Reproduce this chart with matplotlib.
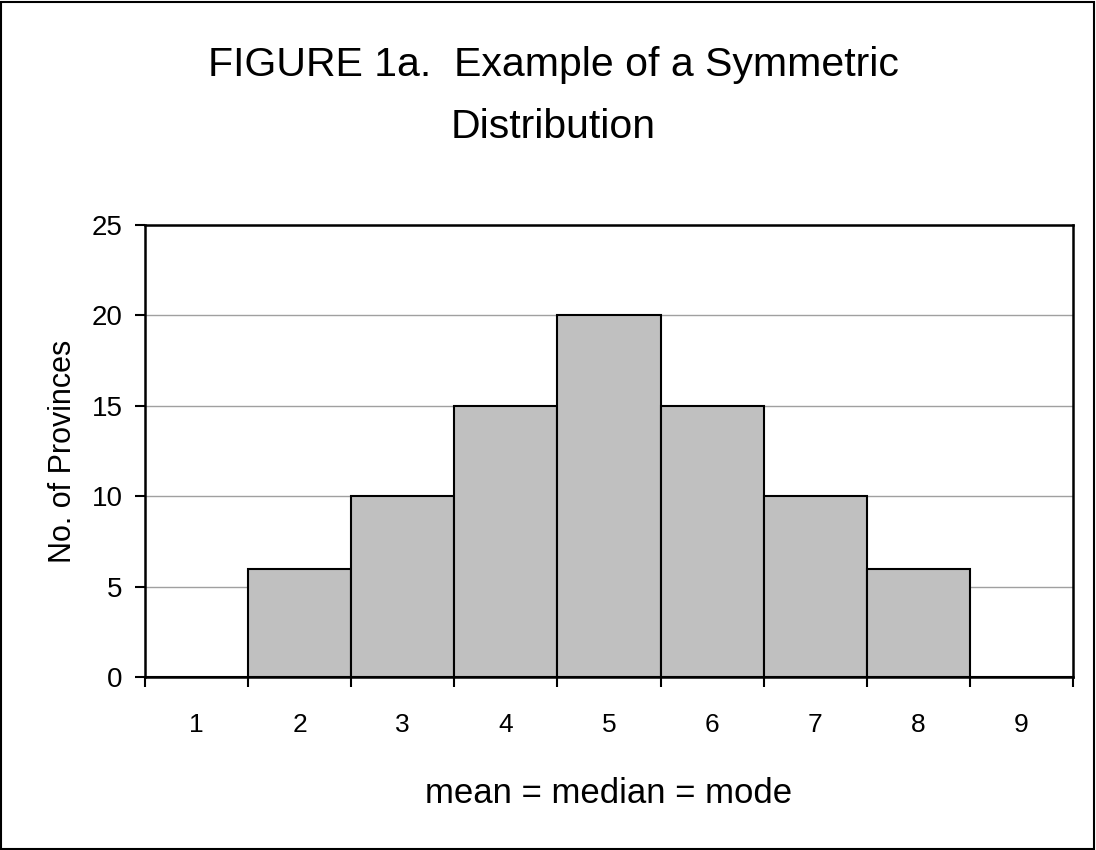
import numpy as np
import matplotlib.pyplot as plt
from matplotlib.patches import Rectangle

plt.rcParams['font.family'] = ['Liberation Sans', 'DejaVu Sans']

categories = [1, 2, 3, 4, 5, 6, 7, 8, 9]
counts = [0, 6, 10, 15, 20, 15, 10, 6, 0]

fig = plt.figure(figsize=(10.96, 8.5), dpi=100)
ax = fig.add_axes([0.1323, 0.2035, 0.8467, 0.5318])

x = np.array(categories)
ax.bar(x, counts, width=1.0, color='#C0C0C0', edgecolor='black',
       linewidth=1.5, zorder=3)

ax.set_xlim(0.5, 9.5)
ax.set_ylim(0, 25)
ax.set_yticks([0, 5, 10, 15, 20, 25])
ax.yaxis.grid(True, color='#A0A0A0', linewidth=1.0, zorder=0)
ax.set_axisbelow(True)

# ticks between categories, labels centered
ax.set_xticks(np.arange(0.5, 10.0, 1.0))
ax.set_xticklabels([])
ax.set_xticks(x, minor=True)
ax.set_xticklabels([str(c) for c in categories], minor=True)
ax.tick_params(axis='x', which='major', direction='out', length=7, width=1.5)
ax.tick_params(axis='x', which='minor', length=0, pad=26, labelsize=19)
ax.tick_params(axis='y', direction='out', length=7, width=1.5, labelsize=20,
               pad=9)

for s in ax.spines.values():
    s.set_linewidth(1.8)
    s.set_color('black')

ax.set_ylabel('No. of Provinces', fontsize=22, labelpad=10)
ax.set_xlabel('mean = median = mode', fontsize=25, labelpad=29)

fig.text(0.505, 1 - 76 / 850, 'FIGURE 1a.  Example of a Symmetric',
         ha='center', va='baseline', fontsize=29.5)
fig.text(0.505, 1 - 138 / 850, 'Distribution',
         ha='center', va='baseline', fontsize=29.5)

fig.patches.append(Rectangle((0.001, 0.001), 0.997, 0.997, fill=False,
                             edgecolor='black', linewidth=1.5,
                             transform=fig.transFigure, figure=fig))

plt.savefig('out.png', dpi=100)
